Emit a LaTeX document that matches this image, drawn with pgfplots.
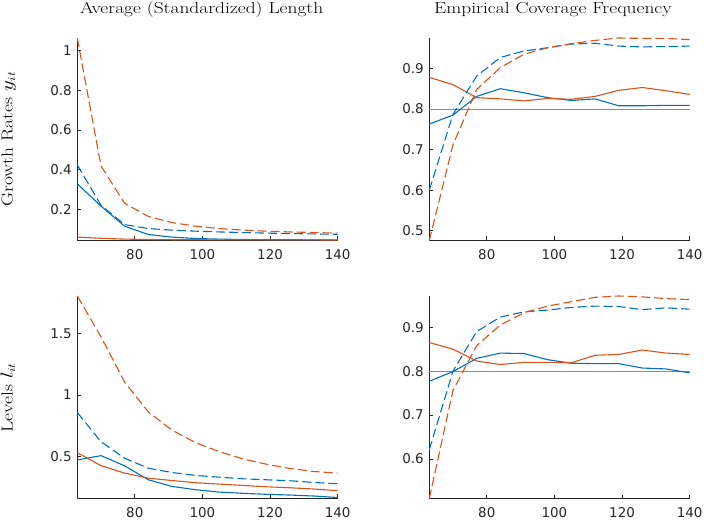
\documentclass[border=0pt]{standalone}
\usepackage{fontspec}
\newfontfamily\tickfont{DejaVu Sans}
\usepackage{pgfplots}
\pgfplotsset{compat=1.18}
\definecolor{mblue}{rgb}{0,0.447,0.741}
\definecolor{mred}{rgb}{0.85,0.325,0.098}
\definecolor{axgray}{rgb}{0.15,0.15,0.15}
\definecolor{refgray}{rgb}{0.55,0.55,0.55}
\pgfplotsset{
 myax/.style={
  scale only axis, width=260.4bp, height=202.5bp,
  axis lines=left, axis line style={-, axgray, line width=0.8bp},
  tick align=inside, major tick length=4bp, tick style={axgray, line width=0.8bp},
  xmin=63, xmax=140, xtick={80,100,120,140},
  tick label style={font=\fontsize{13.5}{16}\tickfont, text=axgray},
  xticklabel style={yshift=-5.5bp},
  yticklabel style={xshift=-2bp},
  /pgf/number format/assume math mode=true,
  /pgf/number format/fixed,
  every axis plot/.append style={line width=1.1bp},
  clip=false, anchor=south west,
 },
 dsh/.style={dash pattern=on 9bp off 4bp},
}
\pgfplotstableread{
x   bs     rs     bd     rd
63  0.330  0.062  0.425  1.063
70  0.218  0.056  0.222  0.420
77  0.117  0.052  0.125  0.232
84  0.075  0.050  0.105  0.166
91  0.062  0.049  0.097  0.135
98  0.055  0.049  0.092  0.117
105 0.052  0.048  0.088  0.105
112 0.050  0.048  0.085  0.097
119 0.049  0.048  0.082  0.092
126 0.049  0.048  0.080  0.088
133 0.048  0.048  0.078  0.085
140 0.048  0.047  0.076  0.082
}\tlData
\pgfplotstableread{
x   bs     rs     bd     rd
63  0.763  0.878  0.600  0.476
70  0.785  0.860  0.787  0.712
77  0.831  0.828  0.881  0.848
84  0.850  0.825  0.927  0.902
91  0.840  0.820  0.943  0.935
98  0.828  0.826  0.951  0.951
105 0.821  0.824  0.960  0.961
112 0.825  0.831  0.962  0.969
119 0.808  0.846  0.955  0.975
126 0.808  0.853  0.953  0.974
133 0.809  0.845  0.954  0.974
140 0.809  0.836  0.955  0.971
}\trData
\pgfplotstableread{
x   bs     rs     bd     rd
63  0.473  0.532  0.858  1.804
70  0.508  0.427  0.621  1.473
77  0.425  0.366  0.487  1.105
84  0.312  0.325  0.406  0.863
91  0.258  0.306  0.371  0.715
98  0.231  0.288  0.347  0.613
105 0.212  0.277  0.333  0.540
112 0.202  0.266  0.320  0.481
119 0.194  0.255  0.312  0.438
126 0.188  0.247  0.304  0.403
133 0.180  0.237  0.290  0.379
140 0.168  0.223  0.280  0.366
}\blData
\pgfplotstableread{
x   bs     rs     bd     rd
63  0.777  0.865  0.621  0.510
70  0.799  0.850  0.800  0.756
77  0.829  0.823  0.890  0.858
84  0.841  0.815  0.923  0.905
91  0.840  0.820  0.935  0.933
98  0.826  0.820  0.939  0.948
105 0.818  0.819  0.945  0.958
112 0.817  0.836  0.948  0.968
119 0.817  0.838  0.947  0.971
126 0.807  0.848  0.940  0.969
133 0.805  0.841  0.944  0.965
140 0.796  0.838  0.941  0.963
}\brData
\newcommand{\lbl}[1]{\scalebox{1.22}[1]{\fontsize{16}{19}\selectfont #1}}
\begin{document}
\begin{tikzpicture}
\useasboundingbox (0,0) rectangle (704bp,520bp);
% top-left
\begin{axis}[myax, at={(77.3bp,279.5bp)}, ymin=0.045, ymax=1.063, ytick={0.2,0.4,0.6,0.8,1}]
\addplot[mblue] table[x=x,y=bs] {\tlData};
\addplot[mred] table[x=x,y=rs] {\tlData};
\addplot[mblue,dsh] table[x=x,y=bd] {\tlData};
\addplot[mred,dsh] table[x=x,y=rd] {\tlData};
\end{axis}
% top-right
\begin{axis}[myax, at={(429.3bp,279.5bp)}, ymin=0.476, ymax=0.975, ytick={0.5,0.6,0.7,0.8,0.9}]
\addplot[refgray, line width=1bp] coordinates {(63,0.8) (140,0.8)};
\addplot[mblue] table[x=x,y=bs] {\trData};
\addplot[mred] table[x=x,y=rs] {\trData};
\addplot[mblue,dsh] table[x=x,y=bd] {\trData};
\addplot[mred,dsh] table[x=x,y=rd] {\trData};
\end{axis}
% bottom-left
\begin{axis}[myax, at={(77.3bp,21.5bp)}, ymin=0.16, ymax=1.804, ytick={0.5,1,1.5}]
\addplot[mblue] table[x=x,y=bs] {\blData};
\addplot[mred] table[x=x,y=rs] {\blData};
\addplot[mblue,dsh] table[x=x,y=bd] {\blData};
\addplot[mred,dsh] table[x=x,y=rd] {\blData};
\end{axis}
% bottom-right
\begin{axis}[myax, at={(429.3bp,21.5bp)}, ymin=0.51, ymax=0.971, ytick={0.6,0.7,0.8,0.9}]
\addplot[refgray, line width=1bp] coordinates {(63,0.8) (140,0.8)};
\addplot[mblue] table[x=x,y=bs] {\brData};
\addplot[mred] table[x=x,y=rs] {\brData};
\addplot[mblue,dsh] table[x=x,y=bd] {\brData};
\addplot[mred,dsh] table[x=x,y=rd] {\brData};
\end{axis}
% titles and row labels
\node[anchor=base, inner sep=0pt] at (201.7bp,506bp) {\lbl{Average (Standardized) Length}};
\node[anchor=base, inner sep=0pt] at (553bp,506bp) {\lbl{Empirical Coverage Frequency}};
\node[anchor=base, rotate=90, inner sep=0pt] at (12.5bp,381bp) {\lbl{Growth Rates $y_{it}$}};
\node[anchor=base, rotate=90, inner sep=0pt] at (12.5bp,122.5bp) {\lbl{Levels $l_{it}$}};
\end{tikzpicture}
\end{document}
